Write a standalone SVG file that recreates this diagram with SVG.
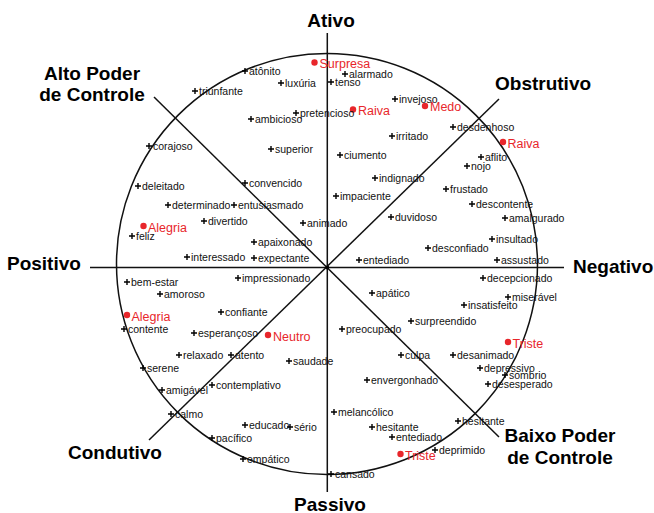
<svg xmlns="http://www.w3.org/2000/svg" xmlns:xlink="http://www.w3.org/1999/xlink" width="654" height="513" viewBox="0 0 654 513">
<style>
.ax{stroke:#111;stroke-width:1.5;fill:none}
.w{font-family:"Liberation Sans",Arial,sans-serif;font-size:10.5px;fill:#111}
.r{font-family:"Liberation Sans",Arial,sans-serif;font-size:12.5px;fill:#e8262b}
.L{font-family:"Liberation Sans",Arial,sans-serif;font-size:19px;font-weight:bold;fill:#000}
.dot{fill:#e8262b}
</style>
<defs>
<path id="p" d="M-3,0H3M0,-3V3" stroke="#000" stroke-width="1.4"/>
</defs>
<rect width="654" height="513" fill="#fff"/>
<g id="connectors">
<circle class="ax" cx="327" cy="264" r="210.5"/>
<line class="ax" x1="90" y1="267.5" x2="564" y2="267.5"/>
<line class="ax" x1="327.3" y1="33" x2="327.3" y2="492"/>
<line class="ax" x1="154" y1="97" x2="499" y2="437"/>
<line class="ax" x1="499" y1="99" x2="149" y2="440"/>
<circle cx="327.3" cy="267.5" r="2" fill="#000"/>
</g>
<g id="axis-labels">
<text id="ativo" class="L" x="331" y="27" text-anchor="middle">Ativo</text>
<text id="passivo" class="L" x="330" y="511" text-anchor="middle">Passivo</text>
<text id="positivo" class="L" x="7" y="270">Positivo</text>
<text id="negativo" class="L" x="573" y="273">Negativo</text>
<text id="obstrutivo" class="L" x="495" y="90">Obstrutivo</text>
<text id="condutivo" class="L" x="68" y="459">Condutivo</text>
<text id="alto" class="L" x="92" text-anchor="middle"><tspan x="92" y="80">Alto Poder</tspan><tspan x="92" y="101">de Controle</tspan></text>
<text id="baixo" class="L" x="560" text-anchor="middle"><tspan x="560" y="442">Baixo Poder</tspan><tspan x="560" y="464">de Controle</tspan></text>
</g>
<g id="red-nodes">
<g id="surpresa"><circle class="dot" cx="314.5" cy="62.5" r="3.2"/><text class="r" x="319.5" y="68">Surpresa</text></g>
<g id="medo"><circle class="dot" cx="425" cy="106" r="3.2"/><text class="r" x="430" y="111">Medo</text></g>
<g id="raiva1"><circle class="dot" cx="353" cy="109.5" r="3.2"/><text class="r" x="358" y="115">Raiva</text></g>
<g id="raiva2"><circle class="dot" cx="503" cy="142" r="3.2"/><text class="r" x="507.5" y="147.5">Raiva</text></g>
<g id="alegria1"><circle class="dot" cx="143.5" cy="226" r="3.2"/><text class="r" x="148" y="231.5">Alegria</text></g>
<g id="alegria2"><circle class="dot" cx="127" cy="315" r="3.2"/><text class="r" x="131.5" y="320.5">Alegria</text></g>
<g id="neutro"><circle class="dot" cx="268" cy="335" r="3.2"/><text class="r" x="273" y="340.5">Neutro</text></g>
<g id="triste1"><circle class="dot" cx="508" cy="342" r="3.2"/><text class="r" x="512.5" y="347.5">Triste</text></g>
<g id="triste2"><circle class="dot" cx="400.5" cy="454" r="3.2"/><text class="r" x="405" y="459.5">Triste</text></g>
</g>
<g id="words">
<g id="w-atonito"><use xlink:href="#p" x="245" y="71"/><text class="w" x="249" y="75">atônito</text></g>
<g id="w-alarmado"><use xlink:href="#p" x="345" y="74"/><text class="w" x="349" y="78">alarmado</text></g>
<g id="w-luxuria"><use xlink:href="#p" x="281" y="83"/><text class="w" x="285" y="87">luxúria</text></g>
<g id="w-tenso"><use xlink:href="#p" x="331" y="82"/><text class="w" x="335" y="86">tenso</text></g>
<g id="w-triunfante"><use xlink:href="#p" x="195" y="91"/><text class="w" x="199" y="95">triunfante</text></g>
<g id="w-invejoso"><use xlink:href="#p" x="395" y="99"/><text class="w" x="399" y="103">invejoso</text></g>
<g id="w-pretencioso"><use xlink:href="#p" x="296" y="113"/><text class="w" x="300" y="117">pretencioso</text></g>
<g id="w-ambicioso"><use xlink:href="#p" x="251" y="119"/><text class="w" x="255" y="123">ambicioso</text></g>
<g id="w-desdenhoso"><use xlink:href="#p" x="453" y="127"/><text class="w" x="457" y="131">desdenhoso</text></g>
<g id="w-irritado"><use xlink:href="#p" x="392" y="136"/><text class="w" x="396" y="140">irritado</text></g>
<g id="w-corajoso"><use xlink:href="#p" x="149" y="146"/><text class="w" x="153" y="150">corajoso</text></g>
<g id="w-superior"><use xlink:href="#p" x="271" y="149"/><text class="w" x="275" y="153">superior</text></g>
<g id="w-ciumento"><use xlink:href="#p" x="340" y="155"/><text class="w" x="344" y="159">ciumento</text></g>
<g id="w-aflito"><use xlink:href="#p" x="481" y="157"/><text class="w" x="485" y="161">aflito</text></g>
<g id="w-nojo"><use xlink:href="#p" x="467" y="166"/><text class="w" x="471" y="170">nojo</text></g>
<g id="w-indignado"><use xlink:href="#p" x="375" y="178"/><text class="w" x="379" y="182">indignado</text></g>
<g id="w-convencido"><use xlink:href="#p" x="245" y="183"/><text class="w" x="249" y="187">convencido</text></g>
<g id="w-deleitado"><use xlink:href="#p" x="138" y="186"/><text class="w" x="142" y="190">deleitado</text></g>
<g id="w-frustado"><use xlink:href="#p" x="446" y="189"/><text class="w" x="450" y="193">frustado</text></g>
<g id="w-impaciente"><use xlink:href="#p" x="336" y="196"/><text class="w" x="340" y="200">impaciente</text></g>
<g id="w-determinado"><use xlink:href="#p" x="168" y="205"/><text class="w" x="172" y="209">determinado</text></g>
<g id="w-entusiasmado"><use xlink:href="#p" x="234" y="205"/><text class="w" x="238" y="209">entusiasmado</text></g>
<g id="w-descontente"><use xlink:href="#p" x="472" y="204"/><text class="w" x="476" y="208">descontente</text></g>
<g id="w-divertido"><use xlink:href="#p" x="204" y="221"/><text class="w" x="208" y="225">divertido</text></g>
<g id="w-animado"><use xlink:href="#p" x="303" y="223"/><text class="w" x="307" y="227">animado</text></g>
<g id="w-duvidoso"><use xlink:href="#p" x="391" y="217"/><text class="w" x="395" y="221">duvidoso</text></g>
<g id="w-amalgurado"><use xlink:href="#p" x="505" y="218"/><text class="w" x="509" y="222">amalgurado</text></g>
<g id="w-feliz"><use xlink:href="#p" x="132" y="236"/><text class="w" x="136" y="240">feliz</text></g>
<g id="w-insultado"><use xlink:href="#p" x="492" y="239"/><text class="w" x="496" y="243">insultado</text></g>
<g id="w-apaixonado"><use xlink:href="#p" x="254" y="242"/><text class="w" x="258" y="246">apaixonado</text></g>
<g id="w-desconfiado"><use xlink:href="#p" x="428" y="248"/><text class="w" x="432" y="252">desconfiado</text></g>
<g id="w-interessado"><use xlink:href="#p" x="187" y="257"/><text class="w" x="191" y="261">interessado</text></g>
<g id="w-expectante"><use xlink:href="#p" x="254" y="258"/><text class="w" x="258" y="262">expectante</text></g>
<g id="w-entediado"><use xlink:href="#p" x="359" y="260"/><text class="w" x="363" y="264">entediado</text></g>
<g id="w-assustado"><use xlink:href="#p" x="497" y="260"/><text class="w" x="501" y="264">assustado</text></g>
<g id="w-impressionado"><use xlink:href="#p" x="238" y="278"/><text class="w" x="242" y="282">impressionado</text></g>
<g id="w-decepcionado"><use xlink:href="#p" x="483" y="278"/><text class="w" x="487" y="282">decepcionado</text></g>
<g id="w-bemestar"><use xlink:href="#p" x="127" y="282"/><text class="w" x="131" y="286">bem-estar</text></g>
<g id="w-amoroso"><use xlink:href="#p" x="160" y="294"/><text class="w" x="164" y="298">amoroso</text></g>
<g id="w-apatico"><use xlink:href="#p" x="372" y="293"/><text class="w" x="376" y="297">apático</text></g>
<g id="w-miseravel"><use xlink:href="#p" x="508" y="297"/><text class="w" x="512" y="301">miserável</text></g>
<g id="w-insatisfeito"><use xlink:href="#p" x="464" y="305"/><text class="w" x="468" y="309">insatisfeito</text></g>
<g id="w-confiante"><use xlink:href="#p" x="221" y="312"/><text class="w" x="225" y="316">confiante</text></g>
<g id="w-surpreendido"><use xlink:href="#p" x="411" y="321"/><text class="w" x="415" y="325">surpreendido</text></g>
<g id="w-contente"><use xlink:href="#p" x="124" y="329"/><text class="w" x="128" y="333">contente</text></g>
<g id="w-esperancoso"><use xlink:href="#p" x="194" y="333"/><text class="w" x="198" y="337">esperançoso</text></g>
<g id="w-preocupado"><use xlink:href="#p" x="342" y="329"/><text class="w" x="346" y="333">preocupado</text></g>
<g id="w-relaxado"><use xlink:href="#p" x="179" y="355"/><text class="w" x="183" y="359">relaxado</text></g>
<g id="w-atento"><use xlink:href="#p" x="231" y="355"/><text class="w" x="235" y="359">atento</text></g>
<g id="w-saudade"><use xlink:href="#p" x="289" y="361"/><text class="w" x="293" y="365">saudade</text></g>
<g id="w-culpa"><use xlink:href="#p" x="401" y="355"/><text class="w" x="405" y="359">culpa</text></g>
<g id="w-desanimado"><use xlink:href="#p" x="453" y="355"/><text class="w" x="457" y="359">desanimado</text></g>
<g id="w-depressivo"><use xlink:href="#p" x="480" y="368"/><text class="w" x="484" y="372">depressivo</text></g>
<g id="w-serene"><use xlink:href="#p" x="143" y="368"/><text class="w" x="147" y="372">serene</text></g>
<g id="w-sombrio"><use xlink:href="#p" x="505" y="375"/><text class="w" x="509" y="379">sombrio</text></g>
<g id="w-desesperado"><use xlink:href="#p" x="488" y="384"/><text class="w" x="492" y="388">desesperado</text></g>
<g id="w-envergonhado"><use xlink:href="#p" x="367" y="380"/><text class="w" x="371" y="384">envergonhado</text></g>
<g id="w-contemplativo"><use xlink:href="#p" x="212" y="385"/><text class="w" x="216" y="389">contemplativo</text></g>
<g id="w-amigavel"><use xlink:href="#p" x="162" y="390"/><text class="w" x="166" y="394">amigável</text></g>
<g id="w-calmo"><use xlink:href="#p" x="171" y="414"/><text class="w" x="175" y="418">calmo</text></g>
<g id="w-melancolico"><use xlink:href="#p" x="334" y="412"/><text class="w" x="338" y="416">melancólico</text></g>
<g id="w-educado"><use xlink:href="#p" x="245" y="425"/><text class="w" x="249" y="429">educado</text></g>
<g id="w-serio"><use xlink:href="#p" x="290" y="427"/><text class="w" x="294" y="431">sério</text></g>
<g id="w-hesitante1"><use xlink:href="#p" x="372" y="427"/><text class="w" x="376" y="431">hesitante</text></g>
<g id="w-hesitante2"><use xlink:href="#p" x="458" y="421"/><text class="w" x="462" y="425">hesitante</text></g>
<g id="w-entediado2"><use xlink:href="#p" x="392" y="437"/><text class="w" x="396" y="441">entediado</text></g>
<g id="w-pacifico"><use xlink:href="#p" x="212" y="438"/><text class="w" x="216" y="442">pacífico</text></g>
<g id="w-deprimido"><use xlink:href="#p" x="435" y="450"/><text class="w" x="439" y="454">deprimido</text></g>
<g id="w-empatico"><use xlink:href="#p" x="243" y="459"/><text class="w" x="247" y="463">empático</text></g>
<g id="w-cansado"><use xlink:href="#p" x="331" y="474"/><text class="w" x="335" y="478">cansado</text></g>
</g>
</svg>
